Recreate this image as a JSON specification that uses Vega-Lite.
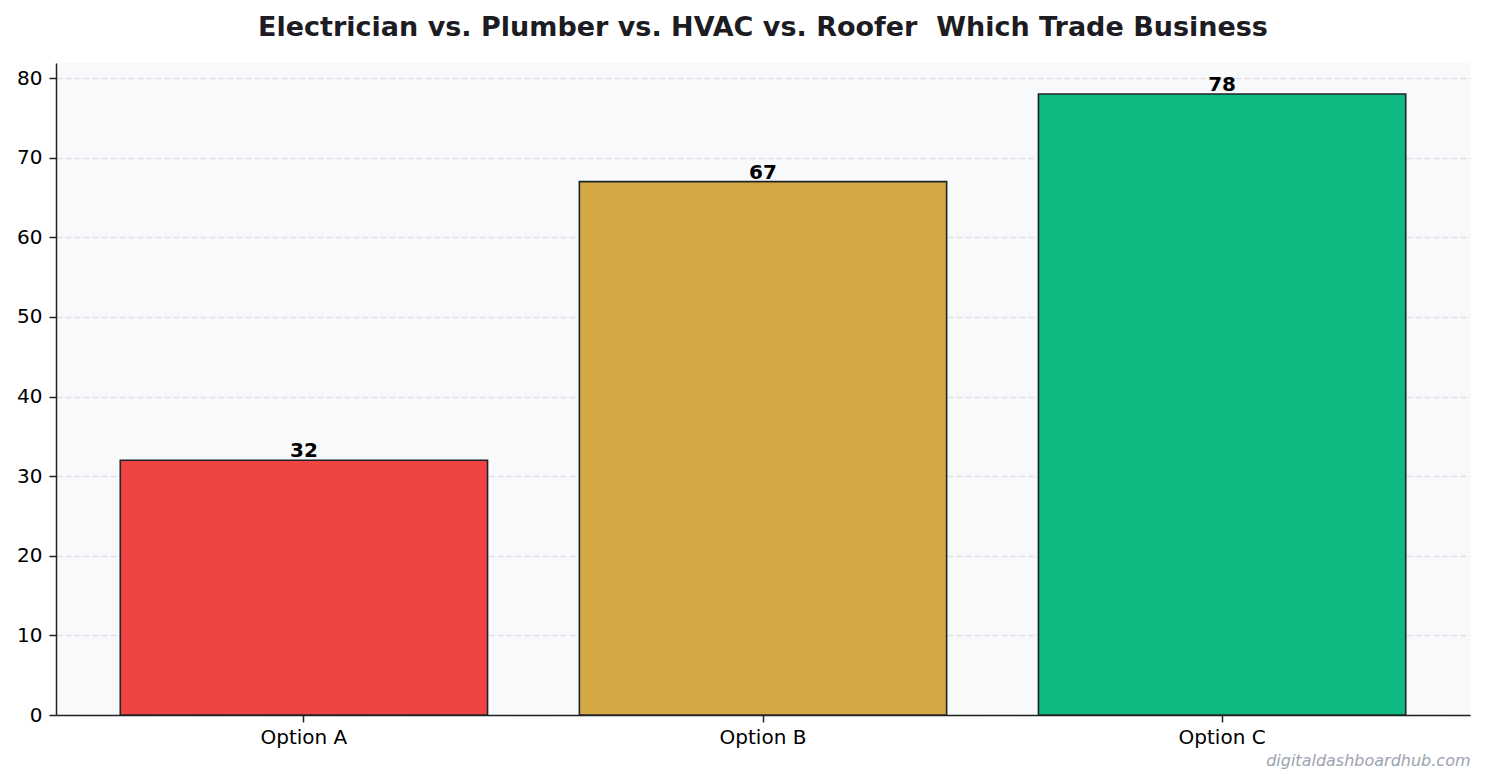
{
  "$schema": "https://vega.github.io/schema/vega-lite/v6.json",
  "width": 1414,
  "height": 652,
  "autosize": "none",
  "padding": {"left": 56, "top": 63, "right": 22, "bottom": 68},
  "background": "white",
  "title": {
    "text": "Electrician vs. Plumber vs. HVAC vs. Roofer \u00a0Which Trade Business",
    "font": "DejaVu Sans",
    "fontSize": 27,
    "fontWeight": "bold",
    "color": "#1c1c22",
    "anchor": "middle",
    "offset": 21
  },
  "data": {
    "values": [
      {"option": "Option A", "score": 32},
      {"option": "Option B", "score": 67},
      {"option": "Option C", "score": 78}
    ]
  },
  "encoding": {
    "x": {
      "field": "option",
      "type": "nominal",
      "sort": null,
      "scale": {"paddingInner": 0.2, "paddingOuter": 0.14},
      "axis": {
        "title": "digitaldashboardhub.com",
        "titleAnchor": "end",
        "titleAlign": "right",
        "titleFont": "DejaVu Sans",
        "titleFontStyle": "italic",
        "titleFontWeight": "normal",
        "titleFontSize": 16,
        "titleColor": "#9ca3af",
        "titlePadding": 5,
        "labelAngle": 0,
        "labelFontSize": 20,
        "labelPadding": 5,
        "tickSize": 7,
        "grid": false
      }
    },
    "y": {
      "field": "score",
      "type": "quantitative",
      "scale": {"domain": [0, 81.9], "nice": false},
      "axis": {
        "title": null,
        "values": [0, 10, 20, 30, 40, 50, 60, 70, 80],
        "labelFontSize": 20,
        "labelPadding": 7,
        "tickSize": 7,
        "grid": true,
        "gridColor": "#e0e2e6",
        "gridDash": [6, 3],
        "gridWidth": 1.3
      }
    }
  },
  "layer": [
    {
      "mark": {"type": "bar", "stroke": "#1f2328", "strokeWidth": 1.6},
      "encoding": {
        "color": {
          "field": "option",
          "type": "nominal",
          "scale": {
            "domain": ["Option A", "Option B", "Option C"],
            "range": ["#ef4444", "#d4a843", "#10b981"]
          },
          "legend": null
        }
      }
    },
    {
      "mark": {
        "type": "text",
        "font": "DejaVu Sans",
        "fontSize": 20,
        "fontWeight": "bold",
        "color": "#000000",
        "baseline": "alphabetic",
        "dy": -3
      },
      "encoding": {
        "text": {"field": "score", "type": "quantitative"}
      }
    }
  ],
  "config": {
    "font": "DejaVu Sans",
    "view": {"fill": "#f8f9fb", "stroke": null},
    "axis": {
      "labelFont": "DejaVu Sans",
      "labelColor": "#000000",
      "domainColor": "#222222",
      "domainWidth": 1.5,
      "tickColor": "#222222",
      "tickWidth": 1.5
    }
  }
}
